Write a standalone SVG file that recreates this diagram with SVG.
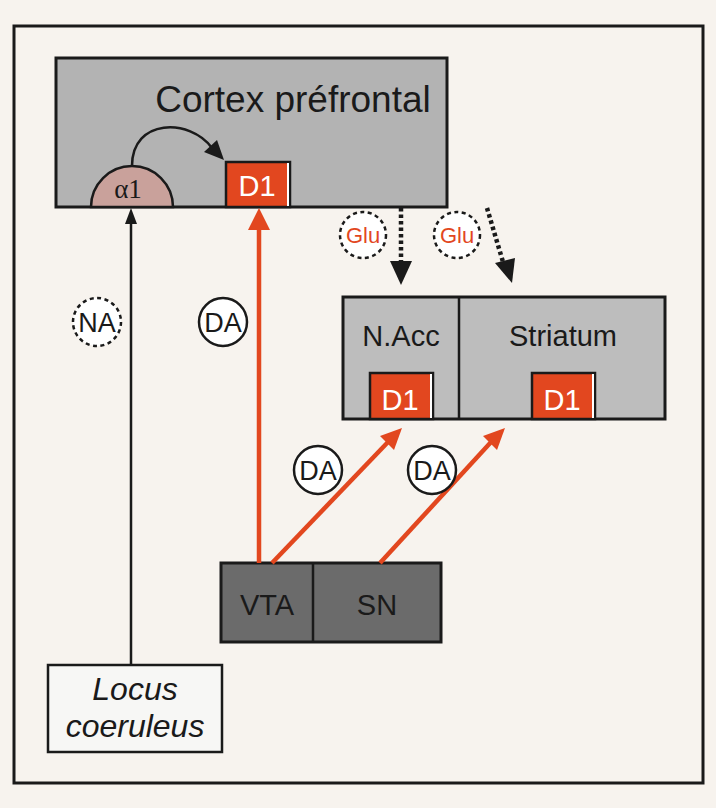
<svg xmlns="http://www.w3.org/2000/svg" width="716" height="808" viewBox="0 0 716 808">
<style>
text{font-family:"Liberation Sans",Arial,sans-serif;}
.box{stroke:#1a1a1a;stroke-width:3;}
.lbl{font-size:29px;fill:#1a1a1a;text-anchor:middle;}
.d1{fill:#e2471f;stroke:#1a1a1a;stroke-width:2.5;}
.d1t{font-size:29px;fill:#fff;text-anchor:middle;}
.red{stroke:#e2471f;stroke-width:4.5;fill:none;}
.blk{stroke:#1a1a1a;stroke-width:2.5;fill:none;}
.dot{stroke:#1a1a1a;stroke-width:4.5;fill:none;stroke-dasharray:3.5 3;}
.circ{fill:#fff;stroke:#1a1a1a;stroke-width:2.5;}
.dcirc{fill:#fff;stroke:#1a1a1a;stroke-width:2.5;stroke-dasharray:4 3.5;}
.ct{font-size:27px;fill:#1a1a1a;text-anchor:middle;}
.gt{font-size:22px;fill:#e2471f;text-anchor:middle;}
.it{font-size:32px;font-style:italic;fill:#1a1a1a;text-anchor:middle;}
</style>
<rect x="0" y="0" width="716" height="808" fill="#f7f3ee"/>
<rect x="14" y="26" width="689" height="757" fill="#f7f3ee" stroke="#1a1a1a" stroke-width="3"/>

<g id="cortex">
<rect class="box" x="56" y="58" width="391" height="149" fill="#b3b3b3"/>
<text class="lbl" x="293" y="112" style="font-size:37px">Cortex préfrontal</text>
</g>
<g id="alpha1">
<path d="M91,207 A41,41 0 0 1 173,207 Z" fill="#c9a19b" stroke="#1a1a1a" stroke-width="2.5"/>
<text x="128" y="198" style="font-size:27px;fill:#1a1a1a;text-anchor:middle;font-family:'Liberation Serif','Times New Roman',serif">α1</text>
</g>
<g id="d1-cortex">
<rect class="d1" x="226" y="162" width="64" height="45"/>
<line x1="288" y1="163" x2="288" y2="206" stroke="#fff" stroke-width="2"/>
<text class="d1t" x="257" y="196">D1</text>
</g>

<g id="nacc-striatum">
<rect class="box" x="343" y="297" width="322" height="122" fill="#bdbdbd"/>
<line x1="459" y1="297" x2="459" y2="419" stroke="#1a1a1a" stroke-width="2.5"/>
</g>
<g id="nacc">
<text class="lbl" x="401" y="346">N.Acc</text>
</g>
<g id="d1-nacc">
<rect class="d1" x="370" y="373" width="63" height="46"/>
<line x1="431" y1="374" x2="431" y2="418" stroke="#fff" stroke-width="2"/>
<text class="d1t" x="400" y="410">D1</text>
</g>
<g id="striatum">
<text class="lbl" x="563" y="346">Striatum</text>
</g>
<g id="d1-striatum">
<rect class="d1" x="532" y="373" width="63" height="46"/>
<line x1="593" y1="374" x2="593" y2="418" stroke="#fff" stroke-width="2"/>
<text class="d1t" x="562" y="410">D1</text>
</g>

<g id="vta-sn">
<rect class="box" x="221" y="563" width="220" height="79" fill="#6b6b6b"/>
<line x1="313" y1="563" x2="313" y2="642" stroke="#1a1a1a" stroke-width="2.5"/>
</g>
<g id="vta"><text class="lbl" x="267" y="615">VTA</text></g>
<g id="sn"><text class="lbl" x="377" y="615">SN</text></g>

<g id="locus">
<rect x="48" y="665" width="174" height="87" fill="#f7f7f5" stroke="#1a1a1a" stroke-width="2.5"/>
<text class="it" x="135" y="700">Locus</text>
<text class="it" x="135" y="737">coeruleus</text>
</g>

<g id="connectors">
<path class="blk" d="M132,166 C132,118 190,118 212,148" stroke-width="2.8"/>
<path d="M224,160 L204,152 L217,140 Z" fill="#1a1a1a"/>
<line class="blk" x1="131" y1="665" x2="131" y2="222"/>
<path d="M131,208 L125,224 L137,224 Z" fill="#1a1a1a"/>
<line class="red" x1="259" y1="563" x2="259" y2="226"/>
<path d="M259,208 L248,230 L270,230 Z" fill="#e2471f"/>
<line class="red" x1="272" y1="563" x2="389" y2="441"/>
<path d="M402,428 L380,436 L394,450 Z" fill="#e2471f"/>
<line class="red" x1="380" y1="563" x2="492" y2="441"/>
<path d="M505,428 L483,436 L497,450 Z" fill="#e2471f"/>
<line class="dot" x1="401" y1="208" x2="401" y2="262"/>
<path d="M401,285 L390,261 L412,261 Z" fill="#1a1a1a"/>
<line class="dot" x1="487" y1="208" x2="503" y2="262"/>
<path d="M512,283 L495,263 L515,258 Z" fill="#1a1a1a"/>
</g>

<g id="label-na">
<circle class="dcirc" cx="97" cy="322" r="24"/>
<text class="ct" x="97" y="332">NA</text>
</g>
<g id="label-da1">
<circle class="circ" cx="223" cy="322" r="24"/>
<text class="ct" x="223" y="332">DA</text>
</g>
<g id="label-da2">
<circle class="circ" cx="318" cy="470" r="24"/>
<text class="ct" x="318" y="480">DA</text>
</g>
<g id="label-da3">
<circle class="circ" cx="432" cy="470" r="24"/>
<text class="ct" x="432" y="480">DA</text>
</g>
<g id="label-glu1">
<circle class="dcirc" cx="363" cy="235" r="23"/>
<text class="gt" x="363" y="243">Glu</text>
</g>
<g id="label-glu2">
<circle class="dcirc" cx="457" cy="235" r="23"/>
<text class="gt" x="457" y="243">Glu</text>
</g>
</svg>
